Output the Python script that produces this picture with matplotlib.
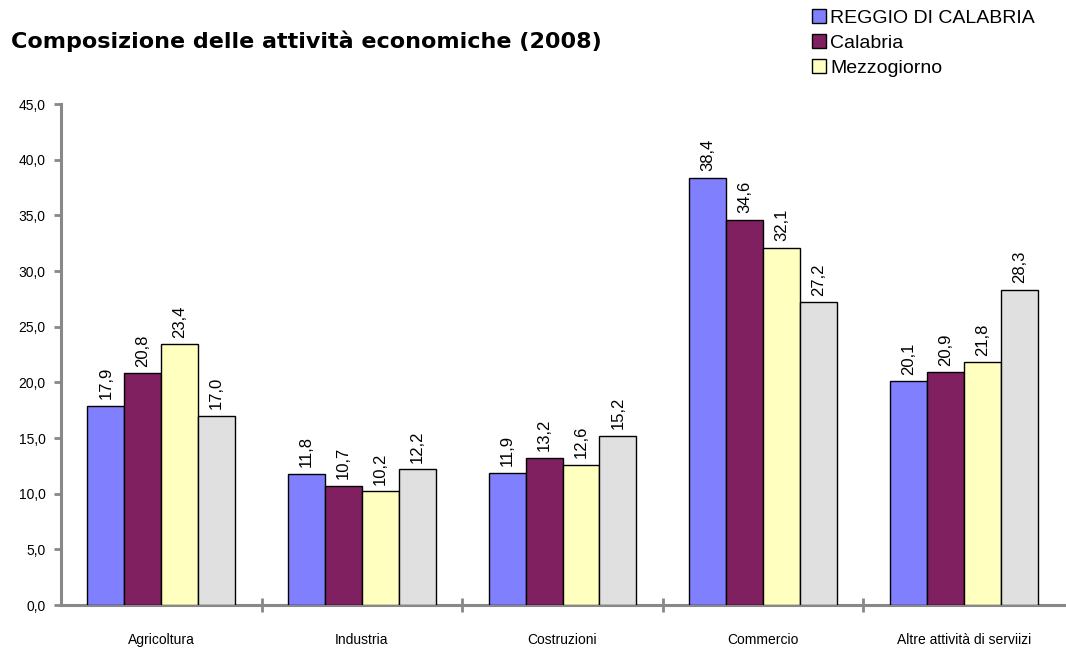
import matplotlib
matplotlib.use("Agg")
import matplotlib.pyplot as plt
import numpy as np

categories = ["Agricoltura", "Industria", "Costruzioni", "Commercio", "Altre attività di serviizi"]
series_names = ["REGGIO DI CALABRIA", "Calabria", "Mezzogiorno", "Italia"]
reggio = [17.9, 11.8, 11.9, 38.4, 20.1]
calabria = [20.8, 10.7, 13.2, 34.6, 20.9]
mezzogiorno = [23.4, 10.2, 12.6, 32.1, 21.8]
italia = [17.0, 12.2, 15.2, 27.2, 28.3]
colors = ["#8080FF", "#802060", "#FFFFC0", "#E0E0E0"]
yticks = [0, 5, 10, 15, 20, 25, 30, 35, 40, 45]

plt.rcParams['font.family'] = ['Liberation Sans', 'DejaVu Sans']

fig = plt.figure(figsize=(10.66, 6.53), dpi=100)
ax = fig.add_axes([0.0572, 0.0735, 0.9410, 0.7672])

x = np.arange(len(categories))
bw = 0.184
data = [reggio, calabria, mezzogiorno, italia]
handles = []
for i, (vals, c) in enumerate(zip(data, colors)):
    pos = x + (i - 1.5) * bw
    b = ax.bar(pos, vals, width=bw, color=c, edgecolor="black", linewidth=1.0, zorder=3)
    handles.append(b)
    for p, v in zip(pos, vals):
        ax.text(p, v + 0.6, f"{v:.1f}".replace(".", ","), rotation=90,
                ha="center", va="bottom", fontsize=12, color="black")

ax.set_xlim(-0.5, len(categories) - 0.5)
ax.set_ylim(0, 45)
ax.set_yticks(yticks)
ax.set_yticklabels([f"{t:.1f}".replace(".", ",") for t in yticks], fontsize=10)
ax.set_xticks(x)
ax.set_xticklabels(categories, fontsize=10)
ax.tick_params(axis="x", length=0, pad=20)
ax.set_xticks(np.arange(0.5, len(categories) - 0.5, 1), minor=True)
ax.tick_params(axis="x", which="minor", length=10, width=2, color="#888888", direction="inout")
ax.tick_params(axis="y", length=5, width=2, color="#888888", direction="out", pad=6)

for s in ["top", "right"]:
    ax.spines[s].set_visible(False)
for s in ["left", "bottom"]:
    ax.spines[s].set_color("#888888")
    ax.spines[s].set_linewidth(2.2)

fig.text(0.010, 0.937, "Composizione delle attività economiche (2008)",
         fontsize=16, fontweight="bold", ha="left", va="center", family="DejaVu Sans")

leg = fig.legend(handles[:3], series_names[:3], loc="upper left",
                 bbox_to_anchor=(0.758, 0.992), frameon=False, fontsize=14,
                 handlelength=0.7, handleheight=0.7, handletextpad=0.25,
                 labelspacing=0.38, borderaxespad=0, borderpad=0.2)

fig.savefig("out.png", dpi=100)
